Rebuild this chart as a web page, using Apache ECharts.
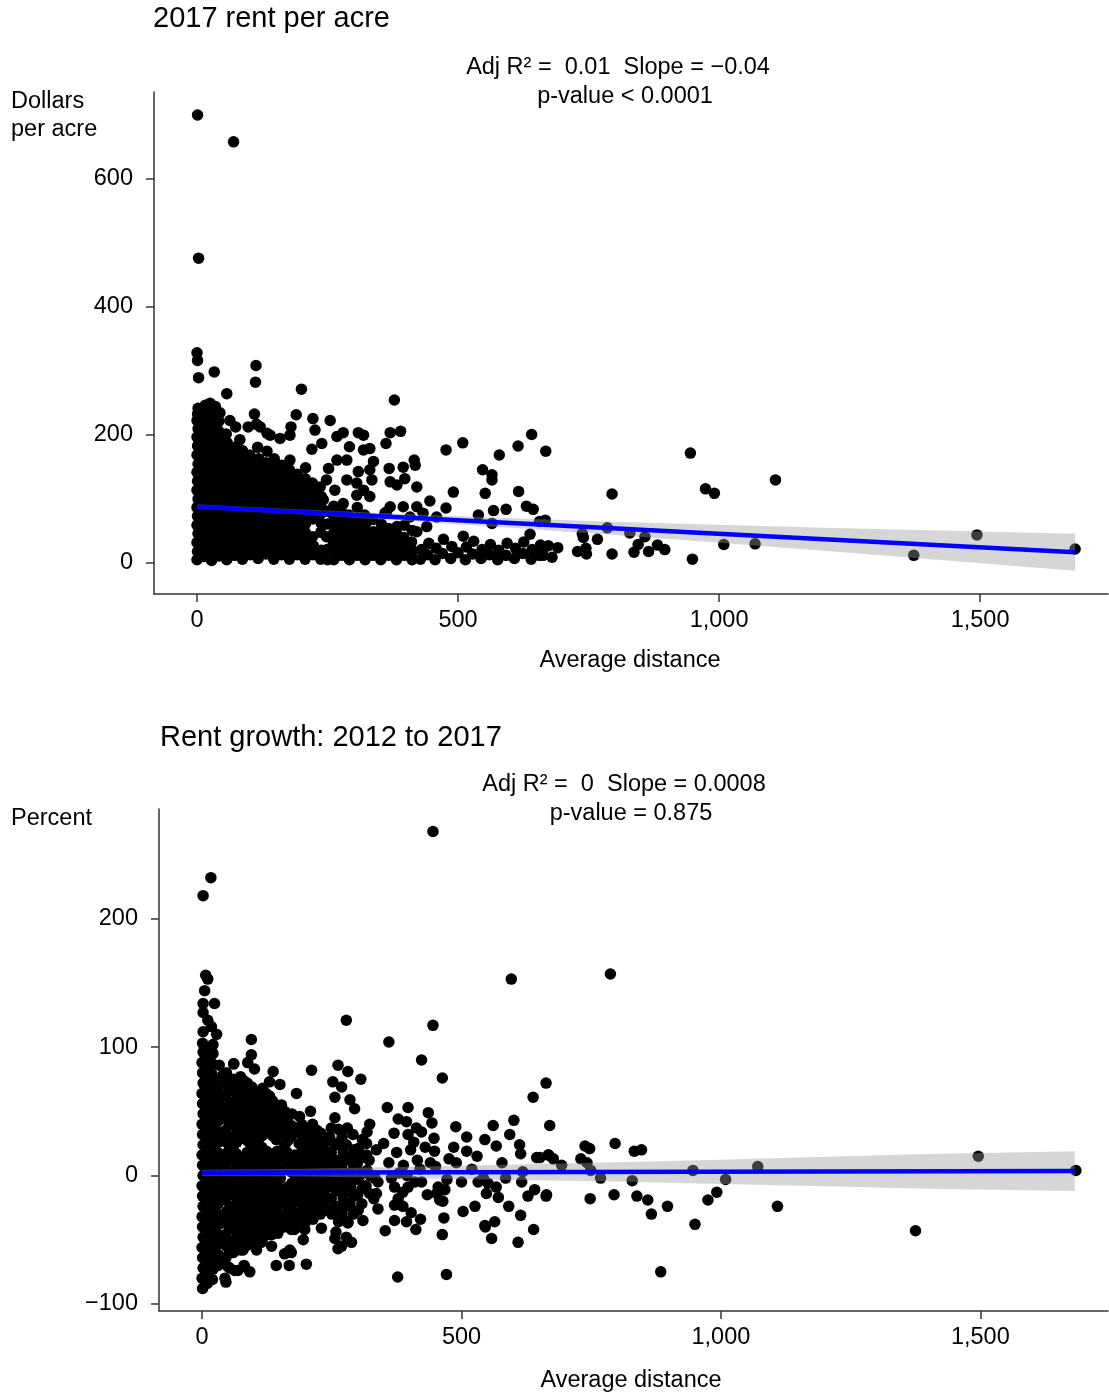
<!DOCTYPE html>
<html>
<head>
<meta charset="utf-8">
<title>Rent per acre vs average distance</title>
<script src="https://cdn.jsdelivr.net/npm/echarts@6.0.0/dist/echarts.min.js"></script>
<style>
  html, body { margin: 0; padding: 0; background: #fff; }
  #chart { width: 1109px; height: 1395px; }
</style>
</head>
<body>
<div id="chart"></div>
<script>
// tick labels
const distanceTicks = [0, 500, 1000, 1500];
const rentTicks = [0, 200, 400, 600];
const growthTicks = [-100, 0, 100, 200];

// 2017 rent per acre: [average distance, dollars per acre]
const rentPoints = [
  [0,4],[1,17],[0,31],[2,45],[0,58],[1,72],[0,86],[2,99],[0,113],[1,127],[0,141],[2,154],[0,168],[1,182],[0,196],[2,209],[0,222],[1,232],[2,241],[3,289],[1,316],[0,328],[3,476],[1,700],
  [14,9],[15,23],[13,37],[14,51],[15,65],[13,79],[14,93],[15,106],[13,120],[14,134],[15,148],[13,162],[14,176],[15,190],[13,204],[14,218],[15,231],[16,246],[25,249],[33,298],
  [28,3],[29,16],[27,30],[28,44],[29,58],[27,72],[28,86],[29,100],[27,114],[28,128],[29,142],[27,156],[28,170],[29,184],[27,198],[28,212],[29,226],[27,240],[35,244],
  [42,10],[43,24],[41,38],[42,52],[43,66],[41,80],[42,94],[43,108],[41,122],[42,136],[43,150],[41,164],[42,178],[43,192],[41,206],[42,221],[44,234],
  [57,4],[58,18],[56,32],[57,46],[58,60],[56,74],[57,88],[58,102],[56,116],[57,130],[58,144],[56,158],[57,172],[58,187],[56,201],[63,222],[57,264],[70,658],
  [72,11],[73,25],[71,39],[72,53],[73,67],[71,81],[72,95],[73,109],[71,123],[72,137],[73,151],[71,165],[72,180],[74,212],[82,192],
  [87,5],[88,19],[86,33],[87,47],[88,61],[86,75],[87,89],[88,103],[86,117],[87,131],[88,146],[86,160],[87,175],
  [102,12],[103,26],[101,40],[102,54],[103,68],[101,82],[102,96],[103,110],[101,124],[102,139],[103,153],[101,168],[98,212],[114,216],
  [117,6],[118,20],[116,34],[117,48],[118,62],[117,76],[116,90],[117,104],[118,118],[116,132],[117,147],[118,162],[116,180],[110,232],[112,282],[113,308],[121,212],
  [132,13],[133,27],[131,41],[132,55],[133,69],[133,83],[131,97],[132,111],[133,126],[131,141],[132,156],[134,174],[134,202],
  [147,5],[148,19],[146,33],[147,47],[148,61],[146,75],[147,89],[147,103],[148,117],[146,131],[147,146],[148,162],[140,199],
  [162,12],[163,26],[161,40],[162,54],[163,68],[161,82],[162,96],[163,110],[162,124],[161,138],[162,152],[159,194],
  [177,5],[178,19],[176,33],[177,47],[178,61],[176,75],[177,89],[178,103],[176,117],[177,131],[177,145],[178,160],[178,199],[180,212],
  [192,12],[193,26],[191,40],[192,54],[193,68],[191,82],[192,96],[193,110],[191,124],[192,138],[190,231],[200,271],
  [207,5],[208,19],[206,33],[207,47],[208,61],[206,75],[207,89],[208,103],[206,117],[207,131],[208,148],[197,103],
  [222,12],[223,26],[221,40],[222,68],[221,82],[222,96],[223,110],[221,124],[222,225],[220,177],[226,207],
  [237,5],[238,19],[237,47],[238,61],[236,75],[237,89],[238,103],[236,118],[239,186],[242,98],
  [250,4],[249,20],[248,40],[250,60],[249,80],
  [248,129],[252,147],[268,160],[287,160],[309,142],[331,145],[287,129],[306,124],[264,113],[319,113],[335,129],[280,92],[306,105],[331,103],
  [262,4],[263,18],[261,32],[262,46],[263,60],[261,74],[262,88],[255,222],
  [277,11],[278,25],[276,39],[277,53],[278,67],[276,81],[268,197],[280,203],
  [292,4],[293,18],[291,32],[292,46],[293,60],[291,74],[292,181],
  [307,11],[308,25],[306,39],[307,53],[308,67],[307,86],[309,203],[319,199],[319,176],[331,178],[338,158],
  [322,4],[323,18],[321,32],[322,46],[323,60],[321,74],
  [337,11],[338,25],[336,39],[338,48],[337,67],
  [352,4],[353,18],[351,32],[352,46],[353,60],[362,186],[368,147],[370,126],[383,121],[360,77],[370,87],[363,79],
  [367,11],[368,25],[366,39],[367,53],[370,203],[390,205],[378,254],
  [382,4],[383,18],[381,32],[382,46],[383,56],[395,87],[395,149],[398,131],[408,71],[421,87],[421,118],[416,160],[418,152],
  [397,11],[398,25],[396,39],[397,58],
  [412,4],[413,18],[411,32],[412,50],[421,48],[433,77],[440,56],[459,71],
  [428,5],[430,20],[442,12],[444,30],[446,96],[456,4],[458,22],[470,14],[472,36],[477,85],[477,176],[486,6],[488,25],[491,110],[500,15],
  [509,187],[510,41],[514,4],[516,24],[528,13],[530,33],[539,74],[544,6],[546,20],[547,145],[552,108],[560,12],[562,28],[565,61],
  [565,137],[565,129],[568,81],[576,4],[578,19],[579,168],[592,11],[592,83],[594,30],[608,6],[610,22],[615,182],[616,111],[624,14],
  [626,32],[631,88],[638,44],[640,5],[641,200],[642,20],[644,83],[656,11],[656,64],[658,27],[663,11],[666,24],[667,66],[668,174],
  [673,26],[680,8],[691,23],
  [729,17],[738,45],[740,39],[745,22],[746,13],[767,36],[786,54],[795,107],[795,13],[829,46],[837,16],[845,28],[858,40],[865,17],
  [882,27],[896,20],[945,171],[949,5],[974,115],[991,108],[1009,28],[1069,29],[1108,129],[1373,11],[1494,43],[1682,21]
];

// rent growth 2012 to 2017: [average distance, percent]
const growthPoints = [
  [1,-88],[0,-80],[2,-72],[1,-64],[0,-56],[2,-48],[1,-40],[0,-32],[2,-24],[1,-16],[0,-8],[2,0],[1,8],[0,16],[2,24],[1,32],[0,40],[2,48],
  [1,56],[0,64],[2,72],[1,80],[0,88],[2,96],[1,103],[2,112],[2,127],[2,134],[5,144],[2,218],
  [10,-84],[11,-76],[9,-68],[10,-60],[11,-52],[9,-44],[10,-36],[11,-28],[9,-20],[10,-12],[11,-4],[9,4],[10,12],[11,20],[9,28],[10,36],
  [11,44],[9,52],[10,60],[11,68],[9,76],[10,84],[11,92],[9,100],[11,121],[7,156],[11,153],
  [20,-81],[21,-73],[19,-65],[20,-57],[21,-49],[19,-41],[20,-33],[21,-25],[19,-17],[20,-9],[21,-1],[19,7],[20,15],[21,23],[19,31],[20,39],
  [21,47],[19,55],[20,63],[21,71],[19,79],[20,87],[21,95],[21,102],[18,116],[17,232],[24,134],
  [31,-70],[32,-62],[30,-54],[31,-46],[32,-38],[30,-30],[31,-22],[32,-14],[30,-6],[31,2],[32,10],[30,18],[31,26],[32,34],[30,42],[31,50],
  [32,58],[30,66],[31,74],[33,86],[28,110],[24,-68],
  [39,-66],[40,-50],[39,-34],[40,-18],[39,-2],[40,14],[39,30],[40,46],[39,62],[40,78],
  [46,-64],[47,-55],[45,-46],[46,-37],[47,-28],[45,-19],[46,-10],[47,-1],[45,8],[46,17],[47,26],[45,35],[46,44],[47,53],[45,62],[46,71],[47,80],
  [53,-60],[54,-51],[52,-42],[53,-33],[54,-24],[52,-15],[53,-6],[54,3],[52,12],[53,21],[54,30],[52,39],[53,48],[54,57],[52,66],[53,75],
  [60,-60],[61,-51],[59,-42],[60,-33],[61,-24],[59,-15],[60,-6],[61,3],[59,12],[60,21],[61,30],[59,39],[60,48],[61,57],[59,66],[60,75],[61,87],
  [67,-55],[68,-46],[66,-37],[67,-28],[68,-19],[66,-10],[67,-1],[68,8],[66,17],[67,26],[68,35],[66,44],[67,53],[68,62],[66,71],
  [74,-58],[75,-49],[73,-40],[74,-31],[75,-22],[73,-13],[74,-4],[75,5],[73,14],[75,32],[73,41],[74,50],[75,59],[73,68],[74,77],
  [81,-52],[82,-43],[80,-34],[81,-25],[82,-16],[80,-7],[81,2],[82,11],[81,29],[82,38],[80,47],[81,56],[82,65],[80,74],
  [88,-54],[89,-45],[87,-36],[88,-27],[89,-18],[87,-9],[88,0],[89,9],[87,18],[88,27],[89,36],[87,45],[88,54],[89,63],[87,72],[88,88],
  [95,-48],[96,-39],[94,-30],[95,-21],[96,-12],[94,-3],[95,6],[96,15],[94,24],[95,33],[96,42],[94,51],[95,60],[96,69],
  [102,-52],[103,-43],[101,-34],[102,-25],[103,-16],[101,-7],[102,2],[103,11],[101,20],[102,29],[103,38],[101,47],[102,56],[103,65],[101,83],
  [109,-46],[110,-37],[108,-28],[109,-19],[110,-10],[108,-1],[109,8],[110,17],[108,26],[109,35],[110,44],[108,53],[109,62],
  [116,-50],[117,-41],[115,-32],[116,-23],[117,-14],[115,-5],[116,4],[117,13],[115,22],[116,31],[117,40],[115,49],[116,58],[117,68],
  [123,-44],[124,-35],[122,-26],[123,-17],[124,-8],[122,1],[123,10],[124,19],[123,37],[124,46],[122,55],[123,64],
  [130,-46],[131,-37],[129,-28],[130,-19],[131,-10],[129,-1],[130,8],[131,17],[130,35],[131,44],[129,53],[130,62],
  [137,-41],[138,-32],[136,-23],[137,-14],[138,-5],[136,4],[137,13],[136,31],[137,40],[138,49],[136,58],
  [144,-44],[145,-35],[143,-26],[144,-17],[145,-8],[143,1],[144,10],[145,19],[143,28],[144,37],[145,46],[143,55],
  [151,-38],[151,-20],[151,-2],[150,16],[151,34],[150,50],
  [50,-71],[44,-80],[63,-74],[82,-71],[92,-75],[79,-58],[56,-59],[69,-74],[81,-70],[46,-83],[53,-72],[95,94],[61,87],[95,106],
  [101,-50],[114,-52],[134,-55],[146,-45],[105,-58],
  [158,-40],[159,-31],[157,-22],[158,-13],[157,5],[158,14],[159,23],[157,32],[158,41],[159,50],
  [165,-36],[166,-27],[164,-18],[165,-9],[166,9],[164,18],[165,27],[166,36],[164,45],
  [172,-42],[173,-33],[171,-24],[172,-15],[173,-6],[171,3],[172,12],[171,30],[172,39],[173,48],
  [179,-38],[180,-29],[178,-20],[179,-11],[180,-2],[178,7],[179,16],[178,34],
  [186,-38],[187,-29],[185,-20],[186,-11],[187,-2],[185,7],[186,16],[187,25],[185,34],[188,46],
  [193,-32],[194,-23],[192,-14],[193,-5],[194,4],[192,13],[193,22],[194,31],[192,40],
  [200,-36],[201,-27],[199,-18],[200,-9],[201,0],[199,9],[200,18],[201,27],[199,36],
  [207,-30],[208,-21],[206,-12],[207,-3],[208,6],[206,15],[207,24],[208,33],
  [214,-34],[215,-25],[213,-16],[214,-7],[215,2],[213,11],[214,20],[215,29],[213,40],
  [221,-28],[222,-19],[220,-10],[221,-1],[222,8],[220,17],[221,26],[222,35],
  [228,-30],[229,-21],[227,-12],[228,-3],[229,6],[227,15],[228,24],[229,33],
  [235,-24],[236,-15],[234,-6],[235,3],[236,12],[234,21],[235,30],
  [242,-27],[243,-18],[241,-9],[242,0],[243,9],[241,18],[242,27],
  [137,81],[150,71],[130,73],[182,64],[153,55],[163,37],[182,34],[211,82],[209,50],[143,-70],[159,-61],[172,-60],[168,-70],[169,-58],
  [201,-69],[195,-50],[230,-41],[178,-42],[198,-42],[156,-31],[134,-46],[117,-45],
  [250,-30],[249,-18],[251,-6],[250,6],[249,18],
  [256,-24],[258,-12],[255,0],[257,12],[256,24],
  [263,-36],[264,-24],[262,-12],[263,0],[264,12],[262,24],[263,36],
  [270,-30],[272,-18],[271,-6],[269,6],[272,18],[270,30],
  [277,-24],[278,-12],[276,0],[277,12],[278,24],
  [285,-22],[287,-10],[284,2],[286,14],
  [292,-30],[293,-16],[291,-4],[292,8],[293,20],[291,32],
  [300,-15],[302,-3],[299,9],[301,21],
  [308,-22],[309,-10],[307,2],[308,14],[309,28],
  [316,-8],[318,4],[317,16],[317,25],[318,34],
  [323,-14],[324,0],[322,12],[323,40],
  [331,-18],[333,-2],[336,20],[339,-5],[336,-14],[339,-26],
  [252,73],[269,69],[256,61],[285,59],[294,52],[262,86],[281,81],[306,75],[278,121],[256,45],[280,37],[249,37],[246,30],[265,26],
  [304,17],[310,-35],[301,-27],[281,-36],[256,-49],[278,-48],[262,-57],[269,-55],[288,-52],[281,-37],[258,-44],[353,-43],
  [357,53],[397,53],[436,49],[443,41],[378,44],[370,33],[397,32],[413,37],[423,34],[394,42],[360,104],[423,90],[463,76],[445,117],[445,268],
  [371,-9],[378,-18],[387,-13],[397,-9],[410,-5],[423,-5],[371,-23],[387,-24],[403,-29],[371,-35],[394,-36],[421,-34],[412,-42],[377,-79],
  [360,10],[375,18],[388,8],[402,20],[415,12],[430,22],[350,25],[365,-2],[380,2],[395,0],[420,5],[408,26],[447,29],[448,19],[450,7],
  [434,-15],[440,10],
  [455,-9],[468,-11],[458,-19],[452,-14],[466,-33],[463,-46],[471,-77],[503,-28],[526,-24],[464,-20],[472,-3],
  [489,38],[510,30],[510,19],[476,13],[490,10],[561,39],[601,43],[593,32],[567,23],[612,24],[614,17],[578,10],[645,14],[667,16],
  [670,39],[663,72],[638,61],[596,153],
  [532,-5],[551,-6],[567,-9],[548,-14],[571,-17],[591,-24],[614,-31],[639,-42],[564,-36],[546,-40],[558,-49],[609,-52],[616,-5],
  [628,-16],[641,-11],[664,-15],[618,3],[542,-2],[545,-39],
  [520,5],[500,-5],[485,22],[530,15],[545,28],[585,-2],
  [651,14],[668,16],[677,13],[693,8],[663,-16],
  [730,13],[742,10],[749,4],[738,23],[747,21],[796,25],[833,19],[847,20],[768,-2],[829,-4],[946,4],[1009,-3],[992,-13],[975,-19],
  [1071,7],[1109,-24],[748,-18],[794,-15],[838,-16],[859,-19],[866,-30],[897,-24],[950,-38],[884,-75],[787,157],[1375,-43],[1496,15],[1684,4]
];

// fitted lines (end points) and their confidence bands
const fitDistance = [0, 1682];
const fitRent = [87, 16];
const fitGrowth = [2.1, 3.5];

const bandDistance = [0, 200, 400, 600, 800, 1000, 1200, 1400, 1682];
const rentBandLow = [83.8, 74.8, 64.8, 54.2, 42.7, 30.7, 18.2, 5.2, -13.3];
const rentBandHigh = [90.8, 82.8, 75.8, 69.2, 63.7, 58.7, 54.2, 50.2, 44.7];
const growthBandLow = [-0.4, -0.7, -2.1, -3.4, -4.7, -6.6, -8.4, -10.2, -12.0];
const growthBandHigh = [4.6, 5.3, 6.9, 8.6, 10.3, 12.4, 14.6, 16.8, 19.0];

const FONT = "'Liberation Sans', Arial, Helvetica, sans-serif";
const AXIS_COLOR = '#333';

function tickLabel(v) {
  if (v < 0) return '\u2212' + Math.abs(v);
  return v.toLocaleString('en-US');
}

function makeXAxis(idx, min, max) {
  return {
    type: 'value', gridIndex: idx, min: min, max: max,
    axisLine: { onZero: false, lineStyle: { color: AXIS_COLOR, width: 1.5 } },
    axisTick: { length: 8, customValues: distanceTicks, lineStyle: { color: AXIS_COLOR, width: 1.5 } },
    axisLabel: { customValues: distanceTicks, formatter: tickLabel, margin: 15,
                 fontSize: 23.5, color: '#000', fontFamily: FONT },
    splitLine: { show: false }
  };
}

function makeYAxis(idx, min, max, ticks) {
  return {
    type: 'value', gridIndex: idx, min: min, max: max,
    axisLine: { onZero: false, lineStyle: { color: AXIS_COLOR, width: 1.5 } },
    axisTick: { length: 8, customValues: ticks, lineStyle: { color: AXIS_COLOR, width: 1.5 } },
    axisLabel: { customValues: ticks, formatter: tickLabel, margin: 21,
                 fontSize: 23.5, color: '#000', fontFamily: FONT },
    splitLine: { show: false }
  };
}

function bandSeries(idx, lo, hi) {
  return {
    type: 'custom', xAxisIndex: idx, yAxisIndex: idx, z: 3, silent: true,
    data: [[bandDistance[0], lo[0]]],
    renderItem: function (params, api) {
      const pts = [];
      for (let i = 0; i < bandDistance.length; i++) pts.push(api.coord([bandDistance[i], hi[i]]));
      for (let i = bandDistance.length - 1; i >= 0; i--) pts.push(api.coord([bandDistance[i], lo[i]]));
      return { type: 'polygon', shape: { points: pts }, style: { fill: 'rgba(153,153,153,0.4)' } };
    }
  };
}

function fitSeries(idx, ys) {
  return {
    type: 'line', xAxisIndex: idx, yAxisIndex: idx, z: 4, silent: true,
    symbol: 'none',
    lineStyle: { color: '#0000ff', width: 4.5 },
    data: fitDistance.map((x, i) => [x, ys[i]])
  };
}

function scatterSeries(idx, pts) {
  return {
    type: 'scatter', xAxisIndex: idx, yAxisIndex: idx, z: 2,
    symbolSize: 11.5,
    itemStyle: { color: '#000', opacity: 1 },
    data: pts
  };
}

function label(text, x, y, size, align) {
  return {
    type: 'text', x: x, y: y, silent: true,
    style: {
      text: text, fontSize: size, fontFamily: FONT, fill: '#000',
      align: align, verticalAlign: 'middle',
      textAlign: align, textVerticalAlign: 'middle'
    }
  };
}

const chart = echarts.init(document.getElementById('chart'), null, { renderer: 'canvas' });

const option = {
  animation: false,
  backgroundColor: '#fff',
  grid: [
    { left: 154, top: 92, width: 954, height: 502 },
    { left: 159, top: 809, width: 949, height: 502 }
  ],
  xAxis: [
    makeXAxis(0, -82.4, 1745),
    makeXAxis(1, -83, 1746)
  ],
  yAxis: [
    makeYAxis(0, -49.5, 736, rentTicks),
    makeYAxis(1, -105.5, 285.5, growthTicks)
  ],
  series: [
    scatterSeries(0, rentPoints),
    bandSeries(0, rentBandLow, rentBandHigh),
    fitSeries(0, fitRent),
    scatterSeries(1, growthPoints),
    bandSeries(1, growthBandLow, growthBandHigh),
    fitSeries(1, fitGrowth)
  ],
  graphic: [
    label('2017 rent per acre', 153, 19, 29, 'left'),
    label('Adj R\u00b2 =  0.01  Slope = \u22120.04', 618, 68, 23.5, 'center'),
    label('p-value < 0.0001', 625, 97, 23.5, 'center'),
    label('Dollars', 11, 102, 23.5, 'left'),
    label('per acre', 11, 130, 23.5, 'left'),
    label('Average distance', 630, 661, 23.5, 'center'),

    label('Rent growth: 2012 to 2017', 160, 738, 29, 'left'),
    label('Adj R\u00b2 =  0  Slope = 0.0008', 624, 785, 23.5, 'center'),
    label('p-value = 0.875', 631, 814, 23.5, 'center'),
    label('Percent', 11, 819, 23.5, 'left'),
    label('Average distance', 631, 1381, 23.5, 'center')
  ]
};

chart.setOption(option);
window.addEventListener('resize', () => chart.resize());
</script>
</body>
</html>
